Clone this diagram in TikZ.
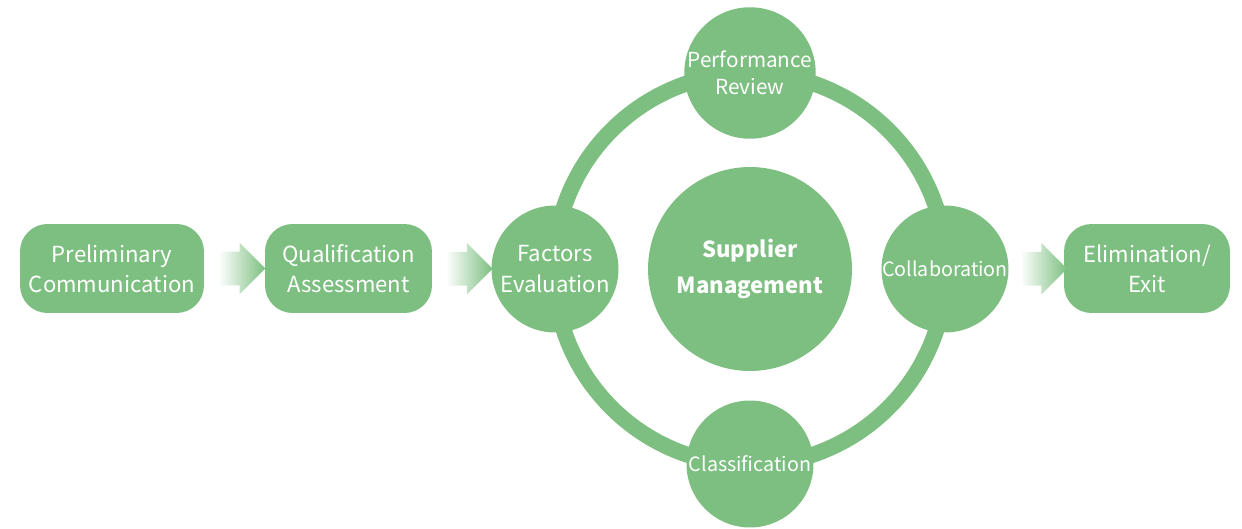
\documentclass[tikz,border=0pt]{standalone}
\usepackage{fontspec}
\setmainfont{Noto Sans CJK SC}
\usetikzlibrary{shapes.arrows,calc}
\definecolor{leaf}{RGB}{124,191,128}
\begin{document}
\begin{tikzpicture}
		[x=0.02cm,y=0.02cm,
		mybox/.style={rectangle,rounded corners=0.55cm,fill=leaf,text=white,align=center,inner sep=0pt,minimum height=1.78cm,font=\fontsize{12.6}{17.2}\selectfont},
		mycircle/.style={circle,fill=leaf,text=white,align=center,inner sep=0pt,minimum size=2.54cm,font=\fontsize{12.6}{17.2}\selectfont},
		smalltext/.style={font=\fontsize{11.2}{15.4}\selectfont},
		myarrow/.style={single arrow,single arrow head extend=0.18cm,minimum height=0.9cm,inner xsep=0pt,inner ysep=0.33cm,outer sep=0pt,left color=leaf!4!white,right color=leaf}]
		\useasboundingbox (0,0) rectangle (1242,528);
		\coordinate (hub) at (750,259);
		\draw[leaf,line width=0.32cm] (hub) circle (196);
		\node[mycircle,minimum size=4.08cm,font=\fontsize{12.6}{20}\selectfont\bfseries,name=sm] at (hub) {Supplier\\Management};
		\node[mycircle,font=\fontsize{11.8}{15.4}\selectfont,name=pr] at (750,455) {Performance\\Review};
		\node[mycircle,smalltext,name=cl] at (750,64) {Classification};
		\node[mycircle,smalltext,name=co] at (945,259) {Collaboration};
		\node[mycircle,name=fe] at (555,259) {Factors\\Evaluation};
		\node[mybox,minimum width=3.68cm,name=pc] at (112,259.5) {Preliminary\\Communication};
		\node[mybox,minimum width=3.34cm,name=qa] at (348.5,259.5) {Qualification\\Assessment};
		\node[mybox,minimum width=3.32cm,name=ee] at (1147,259.5) {Elimination/\\Exit};
		\foreach \a/\b in {pc/qa,qa/fe,co/ee}
		{
			\node[myarrow,name=arr-\a] at ($(\a.east)!0.5!(\b.west)$) {};
		}
	\end{tikzpicture}
\end{document}
